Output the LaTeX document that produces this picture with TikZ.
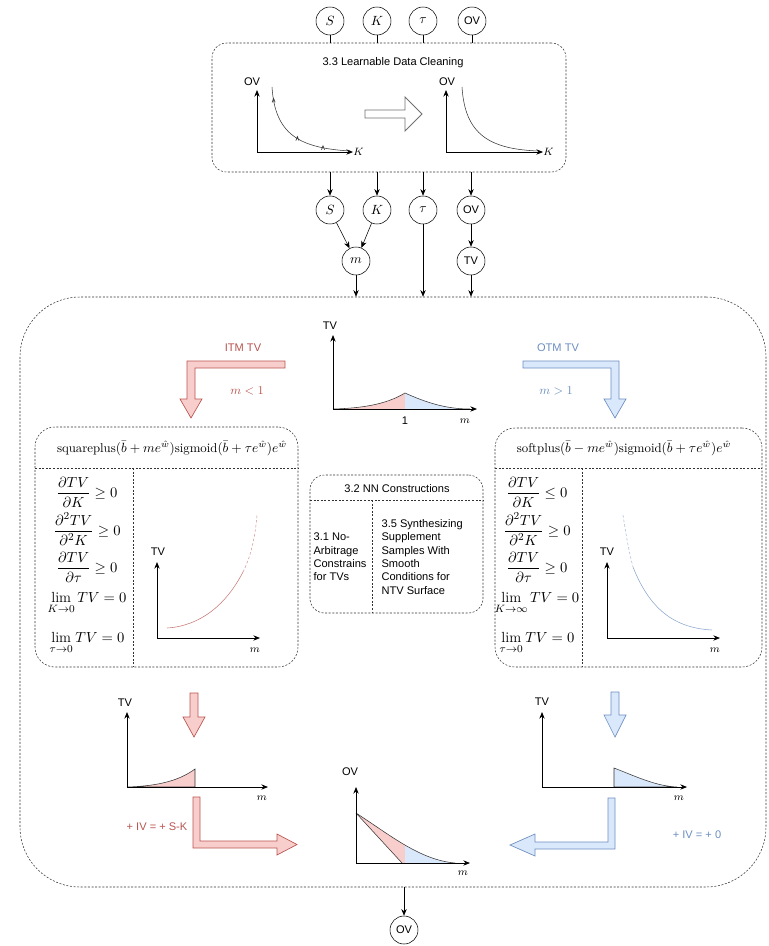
\documentclass[tikz,border=0pt]{standalone}
\usepackage{amsmath}
\usepackage{amssymb}
\usepackage{fontspec}
\setsansfont{Liberation Sans}
\usetikzlibrary{arrows.meta,fit}
\definecolor{itmline}{HTML}{B85450}
\definecolor{itmfill}{HTML}{F8CECC}
\definecolor{otmline}{HTML}{6C8EBF}
\definecolor{otmfill}{HTML}{DAE8FC}
\definecolor{darkgray}{HTML}{333333}

\tikzset{
  var/.style={draw, circle, minimum size=21pt, inner sep=0pt, font=\fontsize{10}{12}\selectfont},
  sansvar/.style={var, font=\sffamily\fontsize{8.3}{10}\selectfont},
  dotbox/.style={draw, darkgray, dash pattern=on 1.5pt off 1.2pt, rounded corners=11pt, inner sep=0pt},
  divline/.style={draw, darkgray, dash pattern=on 1.5pt off 1.2pt},
  lbl/.style={font=\sffamily\fontsize{8.3}{10}\selectfont, inner sep=1pt},
  mlbl/.style={font=\fontsize{8}{10}\selectfont, inner sep=1pt},
  cond/.style={font=\fontsize{11}{13}\selectfont, inner sep=0pt},
  axis/.style={-{Stealth[length=5pt,width=4pt]}, line width=0.6pt},
  conn/.style={-{Stealth[length=5pt,width=4pt]}},
  itmarrow/.style={draw=itmline, fill=itmfill, line width=0.5pt},
  otmarrow/.style={draw=otmline, fill=otmfill, line width=0.5pt},
}

\begin{document}
\begin{tikzpicture}[x=0.75pt, y=-0.75pt]
  \useasboundingbox (0,0) rectangle (768,946);

  % data cleaning block
  \node[dotbox, fit={(212,43) (566,172)}] (clean) {};
  \node[lbl] (cleantitle) at (393,63) {3.3 Learnable Data Cleaning};

  \node[var] (S0) at (330,21) {$S$};
  \node[var] (K0) at (377,21) {$K$};
  \node[var] (tau0) at (423,21) {$\tau$};
  \node[sansvar] (OV0) at (472,21) {OV};
  \foreach \v in {S0,K0,tau0,OV0}
    \draw (\v) -- (\v |- clean.north);

  % raw quotes
  \node[lbl] (ovraw) at (252,82) {OV};
  \draw[axis] (257,152) -- (257,90);
  \draw[axis] (257,152) -- (353,152);
  \node[mlbl, anchor=west, inner sep=0pt] (kraw) at (353,152) {$K$};
  \draw[darkgray] (272,87) .. controls (275,135) and (300,148) .. (350,151);
  \foreach \p in {(273.6,100.4),(297.4,138.6),(323,147.8)}
    \draw[darkgray, line width=0.5pt] \p ++(-1.5,2) -- ++(1.5,-4) -- ++(1.5,4);

  \draw[darkgray!70, fill=white, line width=0.6pt] (365,110) -- (405,110) -- (405,97) -- (422,114)
    -- (405,131) -- (405,118) -- (365,118) -- cycle;

  % cleaned quotes
  \node[lbl] (ovclean) at (447,82) {OV};
  \draw[axis] (446,152) -- (446,90);
  \draw[axis] (446,152) -- (543,152);
  \node[mlbl, anchor=west, inner sep=0pt] (kclean) at (543,152) {$K$};
  \draw[darkgray] (462,87) .. controls (465,135) and (490,149) .. (538,151);

  % inputs
  \node[var] (S1) at (330,210) {$S$};
  \node[var] (K1) at (377,210) {$K$};
  \node[var] (tau1) at (423,210) {$\tau$};
  \node[sansvar] (OV1) at (471,210) {OV};
  \foreach \v in {S1,K1,tau1,OV1}
    \draw[conn] (\v |- clean.south) -- (\v);
  \node[var] (m) at (356,261) {$m$};
  \node[sansvar] (TV0) at (471,261) {TV};
  \draw[conn] (S1) -- (m);
  \draw[conn] (K1) -- (m);
  \draw[conn] (OV1) -- (TV0);

  % main block
  \node[dotbox, rounded corners=45pt, fit={(20,297) (766,887)}] (main) {};
  \foreach \v in {m,tau1,TV0}
    \draw[conn] (\v) -- (\v |- main.north);

  % split of the TV curve
  \node[lbl] (tvsplit) at (330,326) {TV};
  \fill[itmfill] (333,409) .. controls (370,408) and (390,402) .. (405,393) -- (405,409) -- cycle;
  \fill[otmfill] (405,393) .. controls (425,402) and (445,409) .. (470,409) -- (405,409) -- cycle;
  \draw[darkgray] (333,409) .. controls (370,408) and (390,402) .. (405,393)
    .. controls (425,402) and (445,409) .. (470,409);
  \draw[axis] (333,409) -- (333,335);
  \draw[axis] (333,409) -- (477,409);
  \node[lbl] (one) at (405,421) {1};
  \node[mlbl] (msplit) at (465,421) {$m$};

  \node[lbl, text=itmline] (itm) at (243,348) {ITM TV};
  \node[font=\fontsize{9}{11}\selectfont, text=itmline] (mlt) at (247,391) {$m<1$};
  \draw[itmarrow] (285,361) -- (187,361) -- (187,399) -- (180,399) -- (191,418) -- (202,399)
    -- (195,399) -- (195,368) -- (285,368) -- cycle;

  \node[lbl, text=otmline] (otm) at (558,348) {OTM TV};
  \node[font=\fontsize{9}{11}\selectfont, text=otmline] (mgt) at (556,391) {$m>1$};
  \draw[otmarrow] (523,361) -- (619,361) -- (619,399) -- (626,399) -- (615,418) -- (604,399)
    -- (611,399) -- (611,368) -- (523,368) -- cycle;

  % ITM network
  \node[dotbox, rounded corners=15pt, fit={(35,427) (298,667)}] (itmbox) {};
  \node[font=\fontsize{9.6}{11}\selectfont, inner sep=0pt] (itmfun) at (172,448)
    {$\mathrm{squareplus}(\bar{b}+me^{\hat{w}})\mathrm{sigmoid}(\bar{b}+\tau e^{\hat{w}})e^{\hat{w}}$};
  \draw[divline] (35,468) -- (298,468);
  \draw[divline] (133,468) -- (133,667);
  \node[cond] (itmc1) at (87,492) {$\dfrac{\partial TV}{\partial K}\geq 0$};
  \node[cond] (itmc2) at (87,529) {$\dfrac{\partial^2 TV}{\partial^2 K}\geq 0$};
  \node[cond] (itmc3) at (87,567) {$\dfrac{\partial TV}{\partial \tau}\geq 0$};
  \node[cond] (itmc4) at (87,603) {$\lim\limits_{K\to 0} TV=0$};
  \node[cond] (itmc5) at (87,643) {$\lim\limits_{\tau\to 0} TV=0$};
  \node[lbl] (itmtv) at (158,552) {TV};
  \draw[axis] (157,638) -- (157,562);
  \draw[axis] (157,638) -- (260,638);
  \node[mlbl] (itmm) at (255,650) {$m$};
  \draw[itmline!80] (167,628) .. controls (200,626) and (226,605) .. (243,572);
  \draw[itmline!60, dash pattern=on 2pt off 1.5pt] (243,572) .. controls (250,558) and (255,540) .. (257,515);

  % NN constructions
  \node[dotbox, fit={(310,475) (483,613)}] (nnbox) {};
  \node[lbl] (nntitle) at (397,489) {3.2 NN Constructions};
  \draw[divline] (310,500) -- (483,500);
  \draw[divline] (372,500) -- (372,613);
  \node[lbl, align=left, anchor=west] (arb) at (312,557) {3.1 No-\\Arbitrage\\Constrains\\for TVs};
  \node[lbl, align=left, anchor=west] (syn) at (380,557)
    {3.5 Synthesizing\\Supplement\\Samples With\\Smooth\\Conditions for\\NTV Surface};

  % OTM network
  \node[dotbox, rounded corners=15pt, fit={(495,428) (762,667)}] (otmbox) {};
  \node[font=\fontsize{9.6}{11}\selectfont, inner sep=0pt] (otmfun) at (624,448)
    {$\mathrm{softplus}(\bar{b}-me^{\hat{w}})\mathrm{sigmoid}(\bar{b}+\tau e^{\hat{w}})e^{\hat{w}}$};
  \draw[divline] (495,468) -- (762,468);
  \draw[divline] (582,468) -- (582,667);
  \node[cond] (otmc1) at (537,492) {$\dfrac{\partial TV}{\partial K}\leq 0$};
  \node[cond] (otmc2) at (537,529) {$\dfrac{\partial^2 TV}{\partial^2 K}\geq 0$};
  \node[cond] (otmc3) at (537,567) {$\dfrac{\partial TV}{\partial \tau}\geq 0$};
  \node[cond] (otmc4) at (537,603) {$\lim\limits_{K\to \infty} TV=0$};
  \node[cond] (otmc5) at (537,643) {$\lim\limits_{\tau\to 0} TV=0$};
  \node[lbl] (otmtv) at (607,552) {TV};
  \draw[axis] (607,638) -- (607,562);
  \draw[axis] (607,638) -- (720,638);
  \node[mlbl] (otmm) at (715,650) {$m$};
  \draw[otmline!60, dash pattern=on 2pt off 1.5pt] (623,515) .. controls (626,535) and (629,552) .. (633,567);
  \draw[otmline!80] (633,567) .. controls (650,610) and (675,628) .. (712,630);

  % ITM output
  \draw[itmarrow] (190,693) -- (198,693) -- (198,717) -- (205,717) -- (194,737) -- (183,717)
    -- (190,717) -- cycle;
  \node[lbl] (itmtv2) at (125,703) {TV};
  \filldraw[fill=itmfill, draw=darkgray] (127,787) .. controls (160,786) and (180,780) .. (195,769)
    -- (195,787) -- cycle;
  \draw[axis] (127,787) -- (127,712);
  \draw[axis] (127,787) -- (268,787);
  \node[mlbl] (itmm2) at (262,798) {$m$};
  \node[lbl, text=itmline] (itmiv) at (157,827) {+ IV = + S-K};
  \draw[itmarrow] (193,797) -- (193,848) -- (277,848) -- (277,855) -- (297,844.5) -- (277,834)
    -- (277,841) -- (200,841) -- (200,797) -- cycle;

  % OTM output
  \draw[otmarrow] (611,692) -- (619,692) -- (619,715) -- (626,715) -- (615,737) -- (604,715)
    -- (611,715) -- cycle;
  \node[lbl] (otmtv2) at (542,702) {TV};
  \filldraw[fill=otmfill, draw=darkgray] (614,787) -- (614,768) .. controls (635,776) and (655,786) .. (677,787)
    -- cycle;
  \draw[axis] (542,787) -- (542,712);
  \draw[axis] (542,787) -- (687,787);
  \node[mlbl] (otmm2) at (679,798) {$m$};
  \node[lbl, text=otmline] (otmiv) at (697,835) {+ IV = + 0};
  \draw[otmarrow] (615,798) -- (615,849) -- (535,849) -- (535,856) -- (510,845) -- (535,834)
    -- (535,842) -- (608,842) -- (608,798) -- cycle;

  % option value
  \node[lbl] (ovout) at (350,772) {OV};
  \fill[itmfill] (356,813) .. controls (373,824) and (389,835.75) .. (405.1,845.1)
    -- (405.1,863) -- (402,863) -- cycle;
  \fill[otmfill] (405.1,845.1) .. controls (421.25,854.5) and (437.5,861.5) .. (455,863)
    -- (405.1,863) -- cycle;
  \draw[darkgray] (356,813) .. controls (390,835) and (420,860) .. (455,863);
  \draw[darkgray] (356,813) -- (402,863);
  \draw[axis] (356,863) -- (356,787);
  \draw[axis] (356,863) -- (470,863);
  \node[mlbl] (mout) at (463,873) {$m$};

  \node[sansvar] (OV2) at (404,930) {OV};
  \draw[conn] (OV2 |- main.south) -- (OV2);
\end{tikzpicture}
\end{document}
